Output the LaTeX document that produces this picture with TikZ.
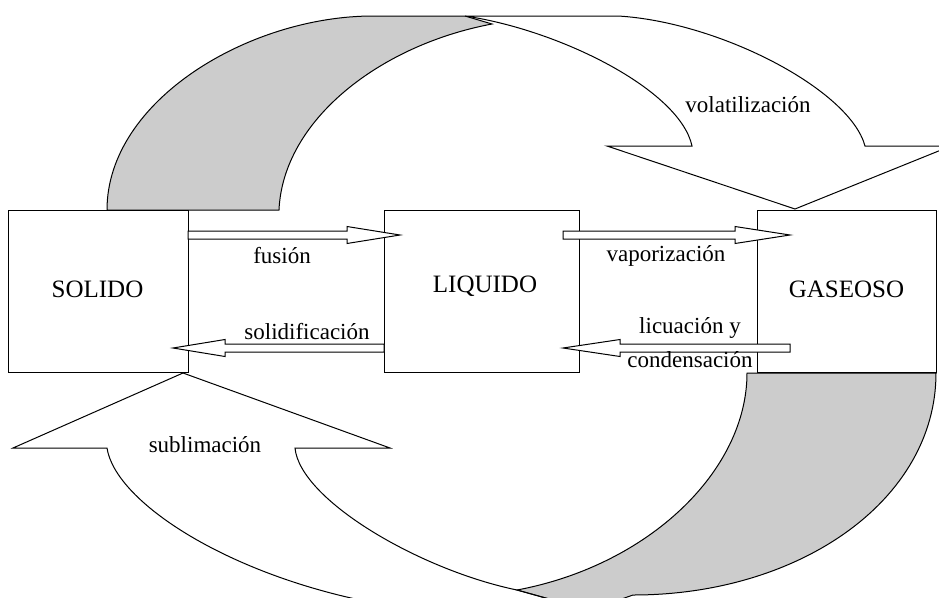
\documentclass[tikz,border=0pt]{standalone}
\usepackage{fontspec}
\setmainfont{Liberation Serif}
\definecolor{shadegray}{HTML}{CCCCCC}
\begin{document}
\begin{tikzpicture}[x=1pt,y=-1pt, line width=1pt, line join=miter,
  box/.style={draw, fill=white, inner sep=0pt, outer sep=0pt},
  lbl/.style={font=\fontsize{23}{27}\selectfont, inner sep=0pt, anchor=base},
  boxlbl/.style={font=\fontsize{25}{29}\selectfont, inner sep=0pt, anchor=base},
  backside/.style={draw, fill=shadegray},
  face/.style={draw},
  barrow/.style={draw, fill=white}]
\useasboundingbox (0,0) rectangle (939,597);
\clip (0,0) rectangle (939,597);

% --- top curved arrow (volatilizacion): shaded back part
\path[backside] (107,210) .. controls (107,100) and (250,16) .. (373,16)
  -- (465,16) -- (492,24) .. controls (380,45) and (283,120) .. (279,210) -- cycle;
% front face
\path[face] (465,16) -- (618,16) .. controls (720,22) and (850,90) .. (865,146)
  -- (951,146) -- (795,209) -- (607,146) -- (692,146)
  .. controls (680,90) and (560,30) .. (465,16);

% --- bottom curved arrow (sublimacion): shaded back part
\path[backside] (517,590) .. controls (650,565) and (747,470) .. (747,373)
  -- (936,373) .. controls (936,500) and (800,595) .. (633,595)
  -- (590,610) -- (560,602) -- cycle;
% front face
\path[face] (380,610) -- (360,600) .. controls (220,570) and (115,500) .. (107,448)
  -- (13,448) -- (183,373) -- (390,448) -- (295,448)
  .. controls (300,500) and (420,570) .. (517,590) -- (560,602);

% --- boxes
\node[box, minimum width=180pt, minimum height=162pt] (sol) at (98,291) {};
\node[box, minimum width=195pt, minimum height=162pt] (liq) at (481.5,291) {};
\node[box, minimum width=179pt, minimum height=162pt] (gas) at (846.5,291) {};

% --- straight hollow arrows
\draw[barrow] (188,231) -- (347,231) -- (347,226.5) -- (400,235) -- (347,243.5) -- (347,239) -- (188,239) -- cycle;
\draw[barrow] (384,344) -- (225,344) -- (225,339.5) -- (173,348) -- (225,356.5) -- (225,352) -- (384,352) -- cycle;
\draw[barrow] (563,231) -- (735,231) -- (735,226.5) -- (790,235) -- (735,243.5) -- (735,239) -- (563,239) -- cycle;
\draw[barrow] (790,344) -- (620,344) -- (620,339.5) -- (563,348) -- (620,356.5) -- (620,352) -- (790,352) -- cycle;

% --- labels
\node[boxlbl] (tsol) at (97.5,297) {SOLIDO};
\node[boxlbl] (tliq) at (485,292) {LIQUIDO};
\node[boxlbl] (tgas) at (846.5,297) {GASEOSO};
\node[lbl] (tfus) at (282,263) {fusión};
\node[lbl] (tsold) at (307,339) {solidificación};
\node[lbl] (tvap) at (666,261) {vaporización};
\node[lbl] (tlic) at (690,333) {licuación y};
\node[lbl] (tcond) at (690,367) {condensación};
\node[lbl] (tvol) at (748,112) {volatilización};
\node[lbl] (tsub) at (205,452) {sublimación};
\end{tikzpicture}
\end{document}
